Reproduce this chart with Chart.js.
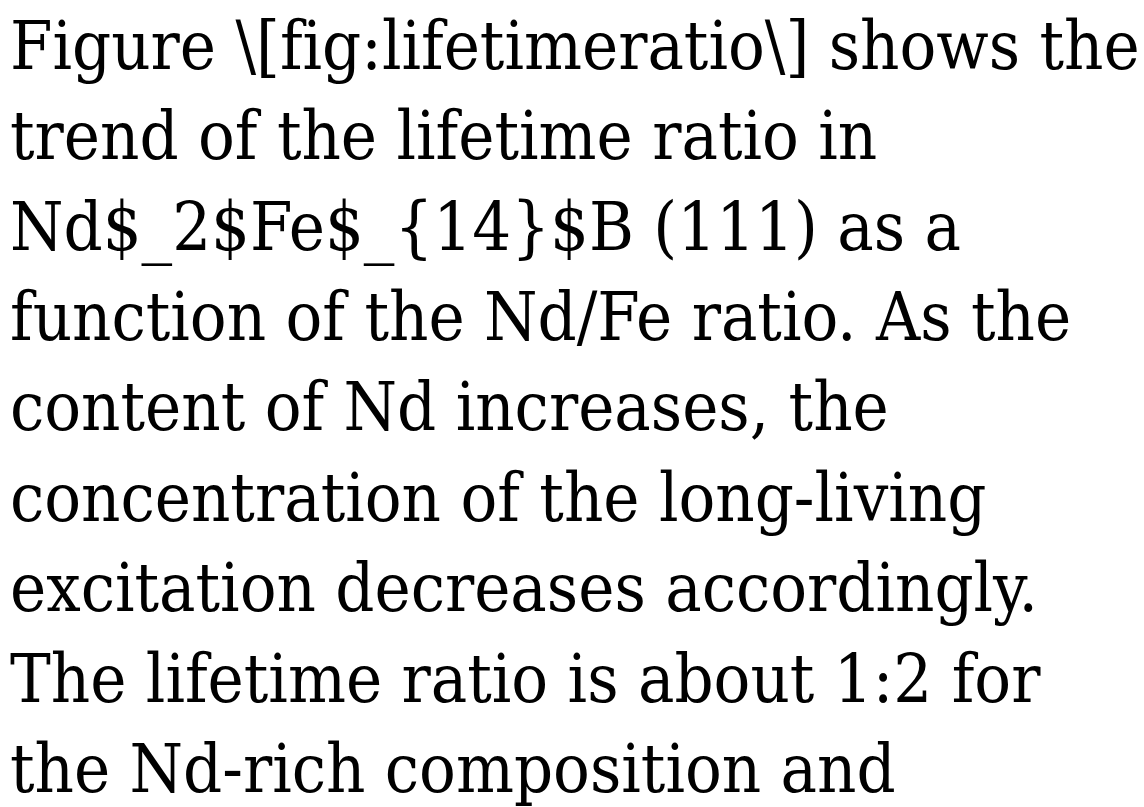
<!DOCTYPE html>
<html>
<head>
<meta charset="utf-8">
<script src="https://cdn.jsdelivr.net/npm/chart.js@4/dist/chart.umd.min.js"></script>
<style>
    html, body { margin: 0; padding: 0; background: #fff; }
    #wrap { width: 1144px; height: 807px; position: relative; }
</style>
</head>
<body>
<div id="wrap"><canvas id="textChart"></canvas></div>
<script>
// Lines of the paragraph, as they wrap in the picture
const textLines = [
    "Figure \\[fig:lifetimeratio\\] shows the",
    "trend of the lifetime ratio in",
    "Nd$_2$Fe$_{14}$B (111) as a",
    "function of the Nd/Fe ratio. As the",
    "content of Nd increases, the",
    "concentration of the long-living",
    "excitation decreases accordingly.",
    "The lifetime ratio is about 1:2 for",
    "the Nd-rich composition and"
];

document.addEventListener("DOMContentLoaded", () => {
    const ctx = document.getElementById("textChart").getContext("2d");

    // keep "fi" as two letters, like the picture
    const noLigatures = {
        id: "noLigatures",
        beforeDraw(chart) {
            chart.ctx.textRendering = "optimizeSpeed";
            if ("fontVariantLigatures" in chart.ctx) chart.ctx.fontVariantLigatures = "none";
        }
    };

    new Chart(ctx, {
        type: "line",
        data: { labels: [], datasets: [] },
        options: {
            responsive: true,
            maintainAspectRatio: false,
            animation: false,
            layout: { padding: { left: 10, right: 0, top: 0, bottom: 0 } },
            scales: {
                x: { display: false },
                y: { display: false }
            },
            plugins: {
                legend: { display: false },
                tooltip: { enabled: false },
                title: {
                    display: true,
                    text: textLines,
                    align: "start",
                    color: "#000",
                    padding: { top: 6, bottom: 0 },
                    font: { family: "'DejaVu Serif Condensed', 'DejaVu Serif'", size: 68, weight: "normal", lineHeight: "90.4px" }
                }
            }
        },
        plugins: [noLigatures]
    });
});
</script>
</body>
</html>
